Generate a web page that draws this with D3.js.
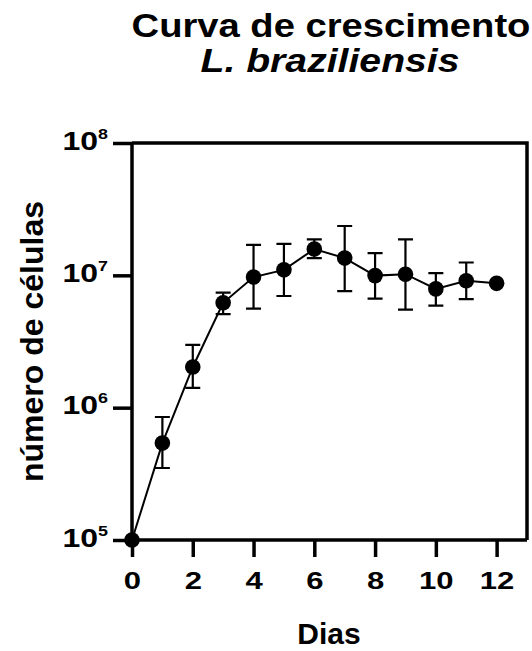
<!DOCTYPE html>
<html>
<head>
<meta charset="utf-8">
<script src="https://cdn.jsdelivr.net/npm/d3@7"></script>
<style>
  body { margin: 0; background: #fff; }
  text { font-family: "Liberation Sans", Arial, sans-serif; font-weight: bold; fill: #000; }
</style>
</head>
<body>
<div id="chart"></div>
<script>
// days and cell counts
const days = [0, 1, 2, 3, 4, 5, 6, 7, 8, 9, 10, 11, 12];
const cells = [1e5, 5.4e5, 2.03e6, 6.2e6, 9.7e6, 1.10e7, 1.58e7, 1.35e7, 9.95e6, 1.02e7, 7.9e6, 9.1e6, 8.7e6];
const upper = [1e5, 8.5e5, 2.98e6, 7.4e6, 1.70e7, 1.73e7, 1.87e7, 2.36e7, 1.47e7, 1.87e7, 1.04e7, 1.25e7, 8.7e6];
const lower = [1e5, 3.5e5, 1.41e6, 5.1e6, 5.6e6, 6.98e6, 1.35e7, 7.6e6, 6.67e6, 5.5e6, 5.9e6, 6.6e6, 8.7e6];
const xTicks = [0, 2, 4, 6, 8, 10, 12];
const yTicks = [1e5, 1e6, 1e7, 1e8];

const W = 532, H = 651;
const plot = { left: 132, right: 527, top: 143, bottom: 540 };

const svg = d3.select("#chart").append("svg")
    .attr("width", W)
    .attr("height", H);

const x = d3.scaleLinear().domain([0, 13]).range([plot.left, plot.right]);
const y = d3.scaleLog().domain([1e5, 1e8]).range([plot.bottom, plot.top]);

// frame (top and right edges)
svg.append("path")
    .attr("d", `M${plot.left},${plot.top}H${plot.right}V${plot.bottom}`)
    .attr("fill", "none")
    .attr("stroke", "#000")
    .attr("stroke-width", 3.5);

// x axis
const gx = svg.append("g")
    .attr("transform", `translate(0,${plot.bottom})`)
    .call(d3.axisBottom(x).tickValues(xTicks).tickSize(17).tickFormat(d3.format("d")));
gx.select(".domain").attr("stroke-width", 3.5).attr("d", `M${plot.left},0H${plot.right}`);
gx.selectAll(".tick line").attr("stroke-width", 3.5);
gx.selectAll(".tick text")
    .attr("y", 0).attr("dy", 0)
    .attr("transform", "translate(0,49) scale(1.35,1)")
    .style("font-size", "23px");

// y axis
const gy = svg.append("g")
    .attr("transform", `translate(${plot.left},0)`)
    .call(d3.axisLeft(y).tickValues(yTicks).tickSize(19).tickFormat(""));
gy.select(".domain").attr("stroke-width", 3.5).attr("d", `M0,${plot.bottom}V${plot.top}`);
gy.selectAll(".tick line").attr("stroke-width", 3.5);
gy.selectAll(".tick text").remove();
gy.selectAll(".tick").each(function (d) {
  const t = d3.select(this).append("text")
      .attr("text-anchor", "end")
      .attr("transform", "translate(-24,6) scale(1.28,1)")
      .style("font-size", "25px");
  t.append("tspan").text("10");
  t.append("tspan")
      .attr("dy", -11)
      .style("font-size", "14px")
      .text(Math.round(Math.log10(d)));
});

// error bars
const cap = 7.5;
const err = svg.append("g").attr("stroke", "#000").attr("stroke-width", 2.2).attr("fill", "none");
days.forEach((d, i) => {
  if (upper[i] === lower[i]) return;
  const cx = x(d);
  err.append("path")
      .attr("d", `M${cx},${y(lower[i])}V${y(upper[i])}` +
                 `M${cx - cap},${y(upper[i])}H${cx + cap}` +
                 `M${cx - cap},${y(lower[i])}H${cx + cap}`);
});

// connecting line
const line = d3.line().x((d, i) => x(days[i])).y(d => y(d));
svg.append("path")
    .datum(cells)
    .attr("d", line)
    .attr("fill", "none")
    .attr("stroke", "#000")
    .attr("stroke-width", 2);

// markers
svg.selectAll(".pt")
    .data(cells)
    .enter().append("circle")
    .attr("class", "pt")
    .attr("cx", (d, i) => x(days[i]))
    .attr("cy", d => y(d))
    .attr("r", 7.8)
    .attr("fill", "#000");

// titles
svg.append("text")
    .attr("text-anchor", "middle")
    .attr("transform", "translate(331,37) scale(1.14,1)")
    .style("font-size", "33.5px")
    .text("Curva de crescimento");
svg.append("text")
    .attr("text-anchor", "middle")
    .attr("transform", "translate(330,72) scale(1.17,1)")
    .style("font-size", "33.5px")
    .style("font-style", "italic")
    .text("L. braziliensis");

// axis titles
svg.append("text")
    .attr("text-anchor", "middle")
    .attr("x", 329)
    .attr("y", 644)
    .style("font-size", "30px")
    .text("Dias");
svg.append("text")
    .attr("text-anchor", "middle")
    .attr("transform", "translate(43,341.5) rotate(-90)")
    .style("font-size", "32px")
    .text("número de células");
</script>
</body>
</html>
